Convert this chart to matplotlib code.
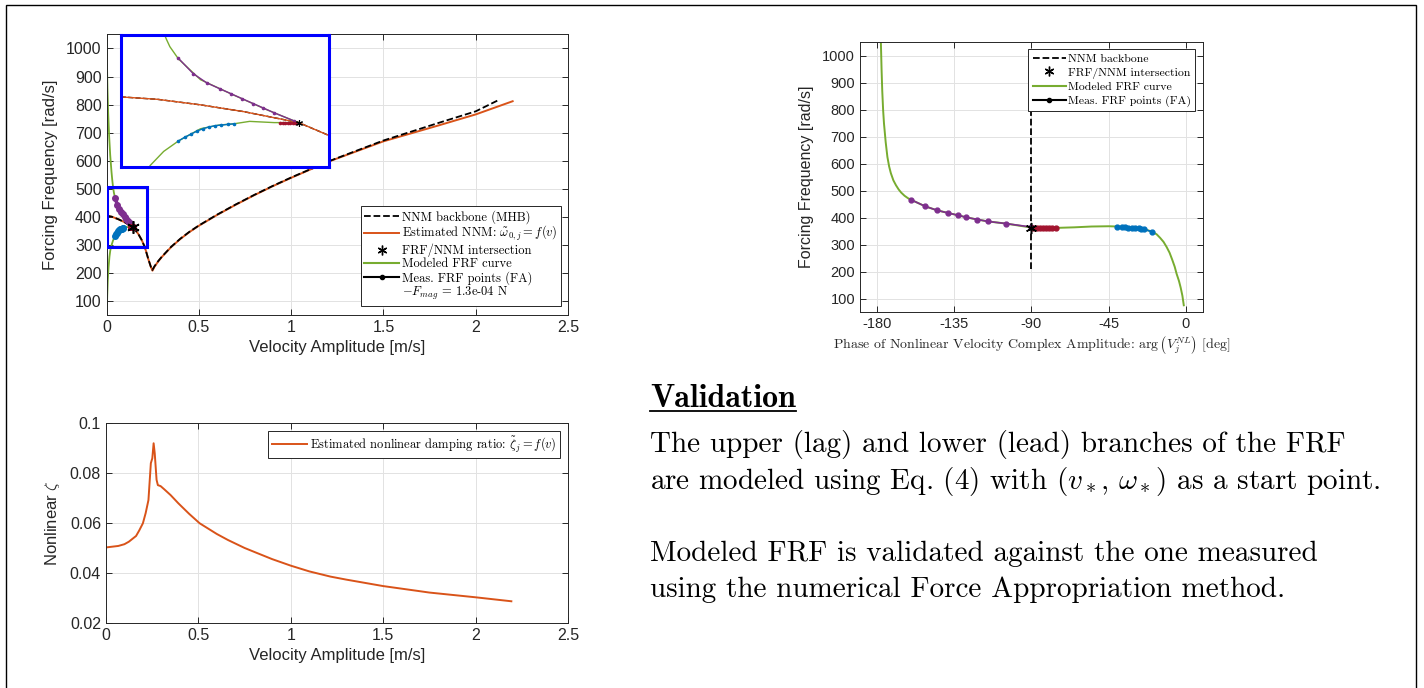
import numpy as np
import matplotlib.pyplot as plt
from matplotlib.lines import Line2D
from matplotlib.patches import Rectangle

plt.rcParams['font.family'] = ['Liberation Sans', 'DejaVu Sans']
plt.rcParams['mathtext.fontset'] = 'cm'

c_orange = '#D95319'
c_green = '#77AC30'
c_purple = '#7E2F8E'
c_blue = '#0072BD'
c_red = '#A2142F'
axcol = '#262626'
gridcol = '#e2e2e2'
serif = 'cmr10'

# NNM backbone (MHB): velocity amplitude [m/s] vs frequency [rad/s]
bb_v = [0.0, 0.03, 0.065, 0.10, 0.145, 0.172, 0.19, 0.208, 0.226, 0.24, 0.248,
        0.26, 0.28, 0.30, 0.35, 0.40, 0.45, 0.50, 0.60, 0.70, 0.80, 0.90, 1.0,
        1.2, 1.5, 1.8, 2.0, 2.12]
bb_w = [404, 400, 391, 380, 362, 339, 318, 291, 250, 222, 210,
        224, 242, 258, 293, 322, 347, 369, 408, 444, 478, 510, 540,
        597, 672, 735, 776, 815]

# estimated NNM
nnm_v = [0.0, 0.03, 0.065, 0.10, 0.145, 0.172, 0.19, 0.208, 0.226, 0.24, 0.249,
         0.26, 0.28, 0.30, 0.35, 0.40, 0.45, 0.50, 0.60, 0.70, 0.80, 0.90, 1.0,
         1.2, 1.5, 1.8, 2.0, 2.2]
nnm_w = [404, 400, 391, 380, 362, 339, 318, 291, 250, 222, 208,
         222, 241, 257, 292, 321, 346, 368, 407, 443, 477, 509, 539,
         596, 669, 726, 765, 812]

# modelled FRF, upper (lag) and lower (lead) branches
up_v = [0.0005, 0.002, 0.005, 0.009, 0.014, 0.02, 0.027, 0.031, 0.034, 0.037,
        0.040, 0.047, 0.065, 0.092, 0.119, 0.141, 0.145]
up_w = [1050, 960, 860, 770, 690, 620, 560, 532, 514, 499,
        486, 466, 432, 407, 383, 365, 362]
lo_v = [0.002, 0.004, 0.007, 0.011, 0.016, 0.020, 0.024, 0.035, 0.047, 0.065,
        0.080, 0.092, 0.105, 0.125, 0.145]
lo_w = [72, 120, 175, 220, 258, 278, 292, 315, 332, 352,
        358, 360, 364, 362, 362]

# FRF/NNM intersection
star_v = 0.145
star_w = 362
star_ph = -90

# measured FRF points (force appropriation)
pu_v = [0.047, 0.059, 0.070, 0.081, 0.090, 0.099, 0.108, 0.116, 0.125, 0.141]
pu_w = [467, 442, 427, 417, 409, 401, 393, 386, 378, 365]
pu_ph = [-160.5, -152, -145, -138.5, -133, -128, -121.5, -115.5, -105, -90]

bl_v = [0.047, 0.052, 0.057, 0.062, 0.067, 0.072, 0.077, 0.082, 0.087, 0.092]
bl_w = [332, 338, 343, 348, 352, 355, 357, 358, 359, 360]
bl_ph = [-40, -37.5, -35.5, -33.5, -31.5, -29.5, -27.5, -26, -24.5, -19.5]
bl_phw = [365, 365, 364, 363, 362, 361, 360, 358, 357, 347]

rd_v = [0.130, 0.132, 0.134, 0.136, 0.138, 0.140, 0.142, 0.144]
rd_w = [362, 362, 362, 362, 362, 362, 362, 362]
rd_ph = [-75.5, -78, -80, -81.5, -83, -85, -87, -89]
rd_phw = [362, 362, 362, 362.5, 362.5, 363, 363, 363]

# modelled FRF vs phase
frf_ph = [-177.8, -177.4, -177, -176.5, -176, -175, -174, -173, -172, -170.5,
          -169, -167.5, -166, -164, -162, -160.5, -152, -145, -138.5, -133,
          -128, -121.5, -115.5, -105, -90, -75, -65, -55, -45, -40, -35, -30,
          -25, -19.5, -17, -15, -13, -11.2, -9.5, -8, -6.5, -5.4, -4, -3, -2, -1.2]
frf_phw = [1050, 950, 870, 800, 750, 680, 625, 590, 565, 538,
           520, 505, 493, 481, 472, 467, 442, 427, 417, 409,
           401, 393, 386, 378, 363, 362, 364, 367, 368, 367, 365, 362,
           358, 348, 338, 325, 310, 291, 270, 245, 218, 192, 165, 140, 110, 75]

# nonlinear damping ratio
zeta_v = [0.0, 0.067, 0.1, 0.124, 0.163, 0.18, 0.2, 0.215, 0.23, 0.243, 0.251,
          0.258, 0.264, 0.274, 0.281, 0.296, 0.316, 0.35, 0.392, 0.45, 0.507,
          0.6, 0.66, 0.75, 0.813, 0.9, 1.0, 1.1, 1.215, 1.3, 1.5, 1.693, 1.75,
          2.0, 2.194]
zeta = [0.0502, 0.0508, 0.0515, 0.0525, 0.0548, 0.0570, 0.0599, 0.064, 0.0692,
        0.084, 0.086, 0.092, 0.088, 0.0773, 0.0752, 0.0748, 0.0735, 0.0712,
        0.0679, 0.0637, 0.0599, 0.0556, 0.0532, 0.0500, 0.0481, 0.0455, 0.0429,
        0.0406, 0.0385, 0.0373, 0.0347, 0.0327, 0.0321, 0.0302, 0.0286]

v_ticks = [0, 0.5, 1, 1.5, 2, 2.5]
v_ticklabels = ['0', '0.5', '1', '1.5', '2', '2.5']
w_ticks = list(range(100, 1001, 100))
ph_ticks = [-180, -135, -90, -45, 0]
ph_ticklabels = ['-180', '-135', '-90', '-45', '0']
z_ticks = [0.02, 0.04, 0.06, 0.08, 0.1]
z_ticklabels = ['0.02', '0.04', '0.06', '0.08', '0.1']


def matlab_axes(ax):
    ax.grid(True, color=gridcol, lw=0.7)
    ax.set_axisbelow(True)
    for s in ax.spines.values():
        s.set_color(axcol)
        s.set_linewidth(0.7)
    ax.tick_params(direction='in', top=True, right=True, length=4,
                   width=0.7, color=axcol, labelcolor=axcol, labelsize=11.5)


fig = plt.figure(figsize=(14.24, 6.88), dpi=100)

# ---------------- top left: frequency vs amplitude
ax1 = fig.add_axes([0.0748, 0.5422, 0.3241, 0.4077])
matlab_axes(ax1)
l_bb, = ax1.plot(bb_v, bb_w, '--', color='k', lw=1.3, zorder=4)
l_nnm, = ax1.plot(nnm_v, nnm_w, '-', color=c_orange, lw=1.4, zorder=3)
ax1.plot(up_v, up_w, '-', color=c_green, lw=1.3, zorder=2)
ax1.plot(lo_v, lo_w, '-', color=c_green, lw=1.3, zorder=2)
for xs, ys, c in [(pu_v, pu_w, c_purple), (bl_v, bl_w, c_blue), (rd_v, rd_w, c_red)]:
    ax1.plot(xs, ys, '-o', color=c, lw=2.5, ms=4, zorder=5)
ax1.plot([star_v], [star_w], ls='none', marker=(6, 2, 0), color='k', ms=9, mew=1.2, zorder=6)
ax1.set_xlim(0, 2.5)
ax1.set_ylim(50, 1050)
ax1.set_xticks(v_ticks, v_ticklabels)
ax1.set_yticks(w_ticks)
ax1.set_xlabel('Velocity Amplitude [m/s]', fontsize=12, color=axcol, labelpad=4)
ax1.set_ylabel('Forcing Frequency [rad/s]', fontsize=12, color=axcol, labelpad=6)
ax1.add_patch(Rectangle((0.004, 292), 0.213, 215, fill=False, ec='#0000ff', lw=2.2, zorder=7))

h_star = Line2D([], [], ls='none', marker=(6, 2, 0), color='k', ms=7, mew=1)
h_frf = Line2D([], [], color=c_green, lw=1.5)
h_meas = Line2D([], [], color='k', lw=1.5, marker='o', ms=3)
h_none = Line2D([], [], color='none')
leg1 = ax1.legend([l_bb, l_nnm, h_star, h_frf, h_meas, h_none],
                  ['NNM backbone (MHB)', r'Estimated NNM: $\tilde{\omega}_{0,j} = f(v)$',
                   'FRF/NNM intersection', 'Modeled FRF curve', 'Meas. FRF points (FA)',
                   r'$-F_{mag}$ = 1.3e-04 N'],
                  loc='lower right', bbox_to_anchor=(0.985, 0.032), borderaxespad=0,
                  prop={'family': serif, 'size': 9}, fancybox=False, framealpha=1,
                  edgecolor=axcol, handlelength=2.8, handletextpad=0.2,
                  labelspacing=0.05, borderpad=0.3)
leg1.get_frame().set_linewidth(0.7)
leg1.set_zorder(8)

# inset zoom
axi = fig.add_axes([0.0848, 0.7577, 0.1465, 0.1914])
axi.set_zorder(10)
axi.plot(bb_v, bb_w, '--', color='k', lw=1.0)
axi.plot(nnm_v, nnm_w, '-', color=c_orange, lw=1.0)
axi.plot(up_v, up_w, '-', color=c_green, lw=1.0)
axi.plot(lo_v, lo_w, '-', color=c_green, lw=1.0)
for xs, ys, c in [(pu_v, pu_w, c_purple), (bl_v, bl_w, c_blue), (rd_v, rd_w, c_red)]:
    axi.plot(xs, ys, '-o', color=c, lw=1.0, ms=1.6)
axi.plot([star_v], [star_w], ls='none', marker=(6, 2, 0), color='k', ms=5, mew=0.8)
axi.set_xlim(0, 0.17)
axi.set_ylim(290, 505)
axi.set_xticks([])
axi.set_yticks([])
for s in axi.spines.values():
    s.set_color('#0000ff')
    s.set_linewidth(2.2)

# ---------------- top right: frequency vs phase
ax2 = fig.add_axes([0.6039, 0.5465, 0.2409, 0.392])
matlab_axes(ax2)
ax2.tick_params(labelsize=10.5)
l_bb2, = ax2.plot([star_ph, star_ph], [min(bb_w), max(bb_w)], '--', color='k', lw=1.3, zorder=4)
ax2.plot(frf_ph, frf_phw, '-', color=c_green, lw=1.4, zorder=2)
for xs, ys, c in [(pu_ph, pu_w, c_purple), (bl_ph, bl_phw, c_blue), (rd_ph, rd_phw, c_red)]:
    ax2.plot(xs, ys, '-o', color=c, lw=1.2, ms=3.5, zorder=5)
ax2.plot([star_ph], [star_w], ls='none', marker=(6, 2, 0), color='k', ms=8, mew=1.1, zorder=6)
ax2.set_xlim(-190, 10)
ax2.set_ylim(50, 1050)
ax2.set_xticks(ph_ticks, ph_ticklabels)
ax2.set_yticks(w_ticks)
ax2.set_xlabel(r'Phase of Nonlinear Velocity Complex Amplitude: $\arg\left(V_j^{NL}\right)$ [deg]',
               fontsize=10, family=serif, color=axcol, labelpad=2)
ax2.set_ylabel('Forcing Frequency [rad/s]', fontsize=11.5, color=axcol, labelpad=6)
leg2 = ax2.legend([l_bb2, h_star, h_frf, h_meas],
                  ['NNM backbone', 'FRF/NNM intersection', 'Modeled FRF curve', 'Meas. FRF points (FA)'],
                  loc='upper right', bbox_to_anchor=(0.977, 0.974), borderaxespad=0,
                  prop={'family': serif, 'size': 8.5}, fancybox=False, framealpha=1,
                  edgecolor=axcol, handlelength=2.8, handletextpad=0.2,
                  labelspacing=0.3, borderpad=0.35)
leg2.get_frame().set_linewidth(0.7)

# ---------------- bottom left: damping ratio
ax3 = fig.add_axes([0.0744, 0.0949, 0.3244, 0.2898])
matlab_axes(ax3)
l_z, = ax3.plot(zeta_v, zeta, '-', color=c_orange, lw=1.4)
ax3.set_xlim(0, 2.5)
ax3.set_ylim(0.02, 0.1)
ax3.set_xticks(v_ticks, v_ticklabels)
ax3.set_yticks(z_ticks, z_ticklabels)
ax3.set_xlabel('Velocity Amplitude [m/s]', fontsize=12, color=axcol, labelpad=4)
ax3.set_ylabel(r'Nonlinear $\zeta$', fontsize=12, color=axcol, labelpad=6)
leg3 = ax3.legend([l_z], [r'Estimated nonlinear damping ratio: $\tilde{\zeta}_j = f(v)$'],
                  loc='upper right', bbox_to_anchor=(0.983, 0.963), borderaxespad=0,
                  prop={'family': serif, 'size': 9}, fancybox=False, framealpha=1,
                  edgecolor=axcol, handlelength=2.8, handletextpad=0.2, borderpad=0.3)
leg3.get_frame().set_linewidth(0.7)

# ---------------- text block
H = 688.0
t_title = fig.text(650 / 1424, 1 - 407 / H, 'Validation', family='cmb10', fontsize=23, va='baseline')
lines = [
    ('The upper (lag) and lower (lead) branches of the FRF', 452),
    (r'are modeled using Eq. (4) with $(v_*,\,\omega_*)$ as a start point.', 489),
    ('Modeled FRF is validated against the one measured', 561),
    ('using the numerical Force Appropriation method.', 597),
]
for s, y in lines:
    fig.text(650 / 1424, 1 - y / H, s, family=serif, fontsize=21, va='baseline')

fig.canvas.draw()
bb = t_title.get_window_extent()
fig.add_artist(Line2D([bb.x0 / 1424, bb.x1 / 1424], [1 - 411 / H, 1 - 411 / H],
                      color='k', lw=1.3, transform=fig.transFigure))

# outer frame
fig.add_artist(Rectangle((6 / 1424, -0.01), 1410 / 1424, 1 - 5 / H + 0.01, fill=False,
                         ec='k', lw=1.0, transform=fig.transFigure))

fig.savefig('out.png', dpi=100)
